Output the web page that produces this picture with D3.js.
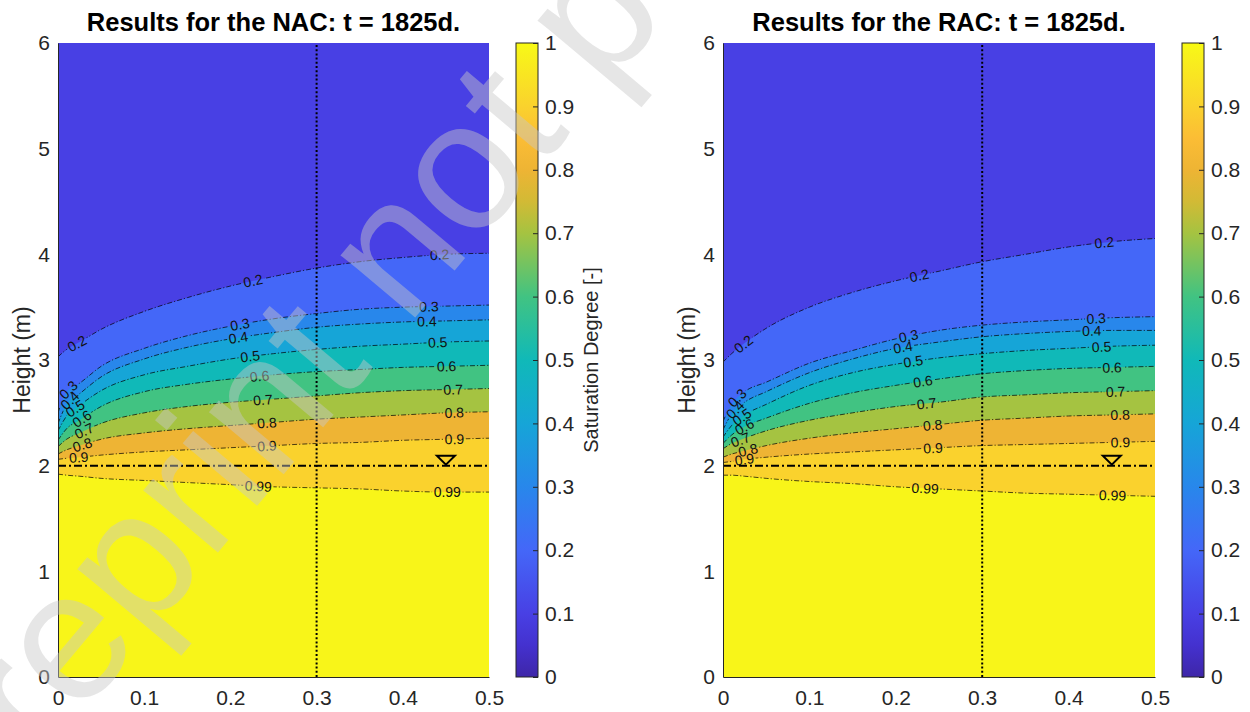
<!DOCTYPE html>
<html>
<head>
<meta charset="utf-8">
<script src="https://cdn.jsdelivr.net/npm/d3@7"></script>
<style>
  body { margin: 0; background: #fff; }
  svg { font-family: "Liberation Sans", Arial, Helvetica, sans-serif; }
</style>
</head>
<body>
<svg id="chart" width="1250" height="712"></svg>
<script>
// ---- data ----
var xGrid = [0, 0.01, 0.025, 0.05, 0.1, 0.15, 0.2, 0.25, 0.3, 0.35, 0.4, 0.45, 0.5];
var levels = [0.2, 0.3, 0.4, 0.5, 0.6, 0.7, 0.8, 0.9, 0.99];
var minSaturation = 0.1;

// height (m) of each contour level along xGrid
var nacHeights = [
    [3.03, 3.10, 3.17, 3.29, 3.46, 3.59, 3.70, 3.79, 3.87, 3.93, 3.97, 4.00, 4.01],
    [2.50, 2.70, 2.78, 2.94, 3.11, 3.23, 3.32, 3.39, 3.44, 3.48, 3.50, 3.51, 3.52],
    [2.40, 2.58, 2.68, 2.84, 3.01, 3.12, 3.20, 3.26, 3.31, 3.34, 3.36, 3.37, 3.38],
    [2.33, 2.47, 2.57, 2.71, 2.86, 2.94, 3.01, 3.06, 3.10, 3.13, 3.15, 3.17, 3.18],
    [2.24, 2.35, 2.43, 2.56, 2.70, 2.77, 2.82, 2.86, 2.89, 2.91, 2.93, 2.94, 2.95],
    [2.18, 2.25, 2.31, 2.40, 2.50, 2.56, 2.60, 2.63, 2.66, 2.69, 2.71, 2.72, 2.73],
    [2.11, 2.15, 2.19, 2.25, 2.31, 2.35, 2.38, 2.41, 2.44, 2.46, 2.48, 2.50, 2.51],
    [2.06, 2.07, 2.08, 2.10, 2.13, 2.15, 2.17, 2.19, 2.21, 2.22, 2.24, 2.25, 2.26],
    [1.92, 1.91, 1.90, 1.88, 1.86, 1.84, 1.82, 1.80, 1.79, 1.78, 1.76, 1.75, 1.75]
];
var racHeights = [
    [2.98, 3.06, 3.16, 3.30, 3.50, 3.64, 3.75, 3.84, 3.93, 4.00, 4.07, 4.12, 4.15],
    [2.42, 2.58, 2.70, 2.79, 2.97, 3.09, 3.20, 3.28, 3.33, 3.36, 3.38, 3.40, 3.41],
    [2.34, 2.49, 2.60, 2.70, 2.88, 3.01, 3.11, 3.17, 3.22, 3.25, 3.27, 3.28, 3.28],
    [2.27, 2.38, 2.48, 2.58, 2.76, 2.88, 2.96, 3.02, 3.06, 3.09, 3.11, 3.13, 3.14],
    [2.21, 2.29, 2.37, 2.45, 2.59, 2.69, 2.76, 2.82, 2.87, 2.90, 2.92, 2.93, 2.94],
    [2.16, 2.21, 2.26, 2.33, 2.43, 2.50, 2.56, 2.60, 2.65, 2.67, 2.69, 2.70, 2.71],
    [2.08, 2.11, 2.14, 2.19, 2.26, 2.31, 2.35, 2.39, 2.43, 2.45, 2.47, 2.48, 2.49],
    [2.03, 2.04, 2.06, 2.08, 2.11, 2.13, 2.15, 2.17, 2.19, 2.20, 2.21, 2.22, 2.23],
    [1.91, 1.91, 1.90, 1.88, 1.85, 1.83, 1.80, 1.78, 1.76, 1.74, 1.73, 1.72, 1.71]
];
// where the inline contour labels sit (x in m)
var nacLabelX = [
    [0.022, 0.226, 0.443], [0.012, 0.211, 0.43], [0.014, 0.209, 0.428],
    [0.02, 0.223, 0.44], [0.028, 0.234, 0.451], [0.03, 0.238, 0.458],
    [0.028, 0.242, 0.46], [0.024, 0.242, 0.46], [0.232, 0.452]
];
var racLabelX = [
    [0.024, 0.227, 0.441], [0.016, 0.215, 0.432], [0.014, 0.208, 0.427],
    [0.022, 0.22, 0.438], [0.025, 0.231, 0.45], [0.02, 0.236, 0.454],
    [0.029, 0.243, 0.46], [0.025, 0.243, 0.46], [0.234, 0.451]
];
var waterTable = 2.0;
var sectionX = 0.3;
var markerX = 0.45;
var xTicks = [0, 0.1, 0.2, 0.3, 0.4, 0.5];
var yTicks = [0, 1, 2, 3, 4, 5, 6];
var cbTicks = [0, 0.1, 0.2, 0.3, 0.4, 0.5, 0.6, 0.7, 0.8, 0.9, 1];

// parula-like colormap
var cmapValues = [0, 0.05, 0.1, 0.2, 0.3, 0.4, 0.5, 0.6, 0.7, 0.75, 0.8, 0.85, 0.9, 0.99, 1];
var cmapColors = ["#3e26a8", "#4431cf", "#4840e4", "#4467f8", "#2887eb", "#16a5d7", "#10b9b8",
                  "#41c382", "#a5c341", "#d2ba35", "#eeb434", "#fbbd35", "#fad22d", "#f8f519", "#f9fb0e"];

var colormap = d3.scaleLinear().domain(cmapValues).range(cmapColors).interpolate(d3.interpolateRgb);

var svg = d3.select("#chart");
var defs = svg.append("defs");
var axisColor = "#262626";
var fmt = function(d) { return String(+d.toFixed(1)); };

var grad = defs.append("linearGradient").attr("id", "parula")
    .attr("x1", 0).attr("y1", 1).attr("x2", 0).attr("y2", 0);
cmapValues.forEach(function(v, i) {
    grad.append("stop").attr("offset", v).attr("stop-color", cmapColors[i]);
});

var panels = [
    {title: "Results for the NAC: t = 1825d.", heights: nacHeights, labelX: nacLabelX,
     left: 58, right: 489, cbLeft: 516, cbLabel: true},
    {title: "Results for the RAC: t = 1825d.", heights: racHeights, labelX: racLabelX,
     left: 723, right: 1155, cbLeft: 1182, cbLabel: false}
];
var plotTop = 43, plotBottom = 677, cbWidth = 22;

panels.forEach(function(p, pi) {
    var x = d3.scaleLinear().domain([0, 0.5]).range([p.left, p.right]);
    var y = d3.scaleLinear().domain([0, 6]).range([plotBottom, plotTop]);
    var g = svg.append("g");

    defs.append("clipPath").attr("id", "clip" + pi)
        .append("rect").attr("x", p.left).attr("y", plotTop)
        .attr("width", p.right - p.left).attr("height", plotBottom - plotTop);

    // filled bands: paint from the top, each level covers everything below it
    var fills = g.append("g").attr("clip-path", "url(#clip" + pi + ")");
    fills.append("rect").attr("x", p.left).attr("y", plotTop)
        .attr("width", p.right - p.left).attr("height", plotBottom - plotTop)
        .attr("fill", colormap(minSaturation));

    var area = d3.area().curve(d3.curveMonotoneX)
        .x(function(d, i) { return x(xGrid[i]); })
        .y0(y(0))
        .y1(function(d) { return y(d); });
    var line = d3.line().curve(d3.curveMonotoneX)
        .x(function(d, i) { return x(xGrid[i]); })
        .y(function(d) { return y(d); });

    p.heights.forEach(function(h, li) {
        fills.append("path").attr("d", area(h)).attr("fill", colormap(levels[li]));
    });

    // contour lines, broken where the labels sit
    var mask = defs.append("mask").attr("id", "gap" + pi)
        .attr("maskUnits", "userSpaceOnUse")
        .attr("x", 0).attr("y", 0).attr("width", 1250).attr("height", 712);
    mask.append("rect").attr("width", 1250).attr("height", 712).attr("fill", "white");

    var lines = g.append("g").attr("mask", "url(#gap" + pi + ")").attr("clip-path", "url(#clip" + pi + ")");
    var labels = g.append("g");

    p.heights.forEach(function(h, li) {
        var path = lines.append("path").attr("d", line(h))
            .attr("fill", "none").attr("stroke", "#000")
            .attr("stroke-width", 0.7).attr("stroke-dasharray", "5,2,1.2,2");

        var node = path.node(), len = node.getTotalLength();
        var pts = d3.range(0, 601).map(function(k) { return node.getPointAtLength(len * k / 600); });

        p.labelX[li].forEach(function(lx) {
            var px = x(lx), best = 0;
            pts.forEach(function(q, k) {
                if (Math.abs(q.x - px) < Math.abs(pts[best].x - px)) best = k;
            });
            var a = pts[Math.max(0, best - 4)], b = pts[Math.min(600, best + 4)];
            var ang = Math.atan2(b.y - a.y, b.x - a.x) * 180 / Math.PI;
            if (ang > 90) ang -= 180;
            if (ang < -90) ang += 180;
            var c = pts[best];
            var t = labels.append("text")
                .attr("transform", "translate(" + c.x + "," + c.y + ") rotate(" + ang + ")")
                .attr("text-anchor", "middle").attr("dy", "0.36em")
                .style("font-size", "14px").attr("fill", "#111")
                .text(String(levels[li]));
            var w = t.node().getComputedTextLength() + 3;
            mask.append("rect")
                .attr("x", -w / 2).attr("y", -6).attr("width", w).attr("height", 12)
                .attr("transform", "translate(" + c.x + "," + c.y + ") rotate(" + ang + ")")
                .attr("fill", "black");
        });
    });

    // section line and water table
    g.append("line").attr("x1", x(sectionX)).attr("x2", x(sectionX))
        .attr("y1", y(0)).attr("y2", y(6))
        .attr("stroke", "#000").attr("stroke-width", 2).attr("stroke-dasharray", "2,2.2");
    g.append("line").attr("x1", x(0)).attr("x2", x(0.5))
        .attr("y1", y(waterTable)).attr("y2", y(waterTable))
        .attr("stroke", "#000").attr("stroke-width", 2).attr("stroke-dasharray", "8,3,2,3");
    var mx = x(markerX), my = y(waterTable);
    g.append("path")
        .attr("d", d3.line()([[mx - 9, my - 10], [mx + 9, my - 10], [mx, my - 1]]) + "Z")
        .attr("fill", "none").attr("stroke", "#000").attr("stroke-width", 2)
        .attr("stroke-linejoin", "miter");

    // axes
    var xAxis = g.append("g").attr("transform", "translate(0," + plotBottom + ")")
        .call(d3.axisBottom(x).tickValues(xTicks).tickSize(0).tickPadding(13).tickFormat(fmt));
    var yAxis = g.append("g").attr("transform", "translate(" + p.left + ",0)")
        .call(d3.axisLeft(y).tickValues(yTicks).tickSize(0).tickPadding(8).tickFormat(fmt));
    [xAxis, yAxis].forEach(function(ax) {
        ax.select(".domain").attr("stroke", axisColor).attr("stroke-width", 1);
        ax.selectAll("text").style("font-size", "21px").attr("fill", axisColor);
    });

    g.append("text")
        .attr("transform", "translate(" + (p.left - 28) + "," + ((plotTop + plotBottom) / 2) + ") rotate(-90)")
        .attr("text-anchor", "middle").style("font-size", "23px").attr("fill", axisColor)
        .text("Height (m)");

    g.append("text").attr("x", (p.left + p.right) / 2).attr("y", 31)
        .attr("text-anchor", "middle").style("font-size", "25.5px").style("font-weight", "bold")
        .attr("fill", "#000").text(p.title);

    // colorbar
    var cy = d3.scaleLinear().domain([0, 1]).range([plotBottom, plotTop]);
    g.append("rect").attr("x", p.cbLeft).attr("y", plotTop)
        .attr("width", cbWidth).attr("height", plotBottom - plotTop)
        .attr("fill", "url(#parula)").attr("stroke", axisColor).attr("stroke-width", 1);
    var cbAxis = g.append("g").attr("transform", "translate(" + (p.cbLeft + cbWidth) + ",0)")
        .call(d3.axisRight(cy).tickValues(cbTicks).tickSize(-5).tickPadding(7).tickFormat(fmt));
    cbAxis.select(".domain").remove();
    cbAxis.selectAll("line").attr("stroke", axisColor);
    cbAxis.selectAll("text").style("font-size", "21px").attr("fill", axisColor);

    if (p.cbLabel) {
        g.append("text")
            .attr("transform", "translate(" + (p.cbLeft + 82) + "," + ((plotTop + plotBottom) / 2) + ") rotate(-90)")
            .attr("text-anchor", "middle").style("font-size", "20px").attr("fill", axisColor)
            .text("Saturation Degree [-]");
    }
});

// preprint watermark
svg.append("text")
    .attr("transform", "translate(-40,860) rotate(-50)")
    .style("font-size", "184px").attr("fill", "#c8c8c8").attr("opacity", 0.45)
    .style("pointer-events", "none")
    .text("Preprint not peer reviewed");
</script>
</body>
</html>
